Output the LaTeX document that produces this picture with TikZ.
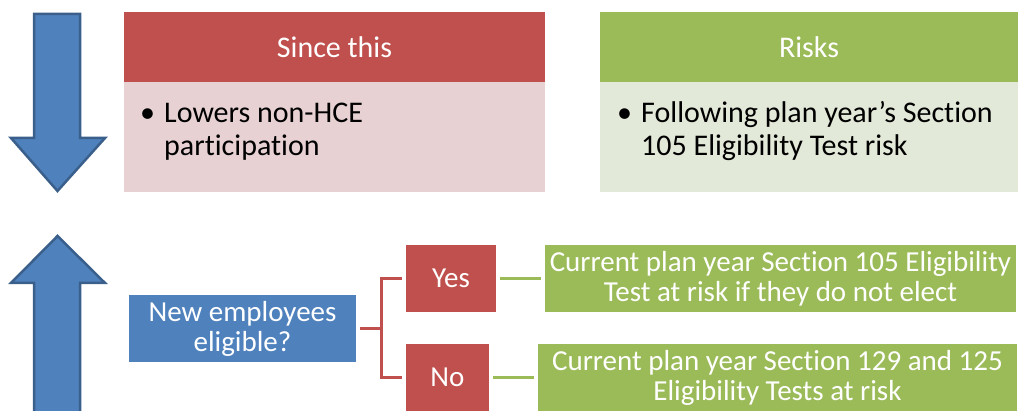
\documentclass[tikz,border=0pt]{standalone}
\usepackage{fontspec}
\setmainfont{Carlito}[Ligatures=NoCommon]
\usepackage{tikz}
\usetikzlibrary{positioning}
\usepackage{xcolor}
\definecolor{accblue}{HTML}{4F81BD}
\definecolor{accblueline}{HTML}{3A5F8B}
\definecolor{accred}{HTML}{C0504D}
\definecolor{accgreen}{HTML}{9BBB59}
\definecolor{redbody}{HTML}{E7D1D2}
\definecolor{greenbody}{HTML}{E3E9D8}
\newcommand{\bulletitem}[1]{\makebox[24pt][l]{\textbullet}\parbox[t]{380pt}{\raggedright #1}}

\begin{document}
\begin{tikzpicture}[x=1pt, y=-1pt,
      head/.style   = {anchor=north west, inner sep=0pt, outer sep=0pt,
                       minimum height=70pt, text=white,
                       font=\fontsize{30}{33}\selectfont},
      body/.style   = {inner sep=0pt, outer sep=0pt, minimum height=110pt},
      bullet/.style = {anchor=north west, inner sep=0pt,
                       font=\fontsize{30}{33}\selectfont},
      fbox/.style   = {anchor=north west, inner sep=0pt, outer sep=0pt,
                       minimum height=67pt, text=white, align=center,
                       font=\fontsize{29}{30}\selectfont},
      bigarrow/.style = {fill=accblue, draw=accblueline, line width=2.5pt,
                       line join=miter},
      redline/.style   = {draw=accred, line width=3.5pt,
                          shorten <=4pt, shorten >=4pt},
      greenline/.style = {draw=accgreen, line width=3.5pt,
                          shorten <=4pt, shorten >=4pt}
    ]
    \useasboundingbox (0,0) rectangle (1018,411);
    \clip (0,0) rectangle (1018,411);

    % arrows at the left
    \path[bigarrow] (34,14) -- (80,14) -- (80,138) -- (105,138) -- (57.5,191)
                    -- (11,138) -- (34,138) -- cycle;
    \path[bigarrow] (57.5,236) -- (105,283) -- (80,283) -- (80,420)
                    -- (34,420) -- (34,283) -- (11,283) -- cycle;

    % top panels
    \node[head, fill=accred, minimum width=421pt] (sinceHead) at (124,12) {Since this};
    \node[body, fill=redbody, minimum width=421pt, below=0pt of sinceHead] (sinceBody) {};
    \node[head, fill=accgreen, minimum width=418pt] (riskHead) at (600,12) {Risks};
    \node[body, fill=greenbody, minimum width=418pt, below=0pt of riskHead] (riskBody) {};

    \node[bullet] (sinceTxt) at (140,103) {\bulletitem{Lowers non-HCE\\participation}};
    \node[bullet] (riskTxt) at (617,101)
      {\bulletitem{Following plan year’s Section\\105 Eligibility Test risk}};

    % decision
    \node[fbox, fill=accblue, minimum width=227pt] (elig) at (129,295) {New employees\\eligible?};
    \node[fbox, fill=accred, minimum width=90pt] (yes) at (406,245) {Yes};
    \node[fbox, fill=accred, minimum width=83pt] (no)  at (406,344) {No};
    \node[fbox, fill=accgreen, minimum width=471pt] (cur105) at (545,245)
      {Current plan year Section 105 Eligibility\\Test at risk if they do not elect};
    \node[fbox, fill=accgreen, minimum width=479pt] (cur129) at (538,344)
      {Current plan year Section 129 and 125\\Eligibility Tests at risk};

    \draw[redline] (elig.east) -- ++(25.7,0) |- (yes.west);
    \draw[redline] (elig.east) -- ++(25.7,0) |- (no.west);
    \draw[greenline] (yes) -- (cur105);
    \draw[greenline] (no)  -- (cur129);
  \end{tikzpicture}
\end{document}
